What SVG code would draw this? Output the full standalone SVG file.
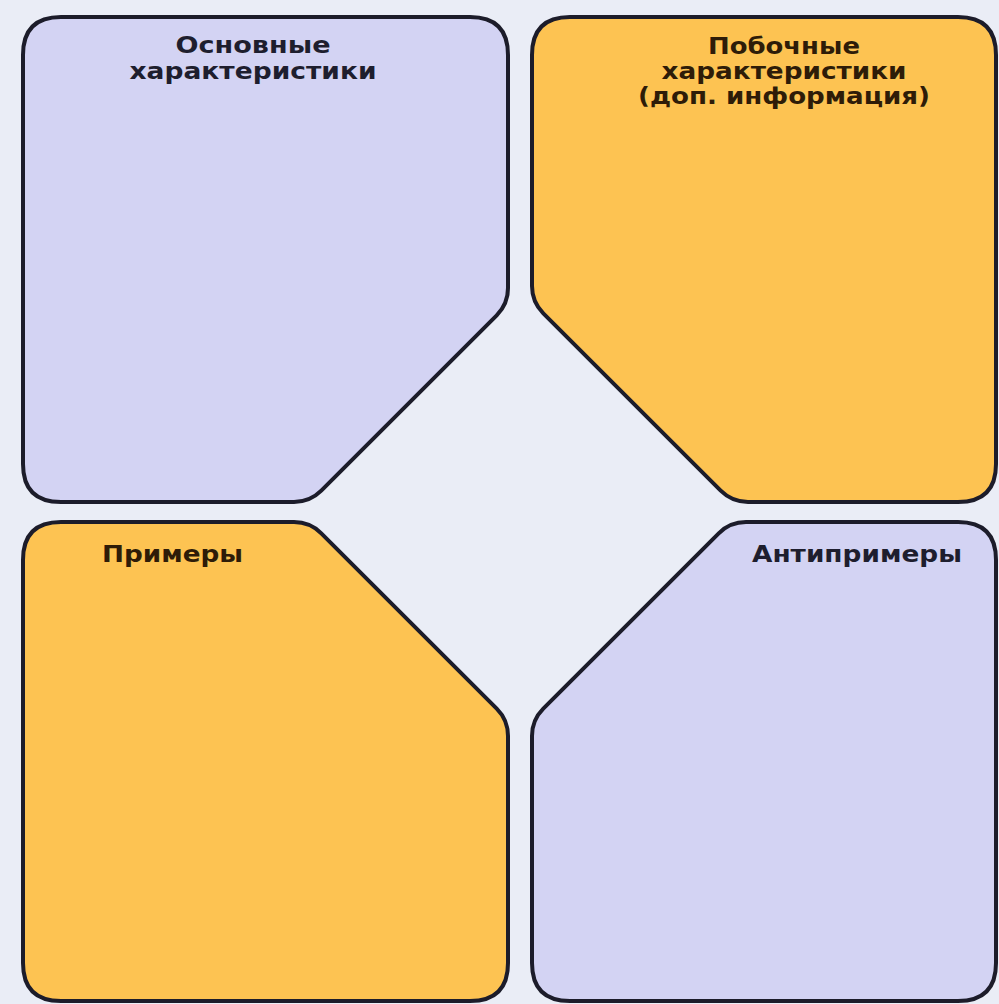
<svg xmlns="http://www.w3.org/2000/svg" width="999" height="1004" viewBox="0 0 999 1004">
<style>
.shape{stroke:#1c1c2a;stroke-width:4;stroke-linejoin:round}
.lav{fill:#d3d3f3}
.org{fill:#fdc352}
.lbl{font-family:"DejaVu Sans","Liberation Sans",sans-serif;font-weight:bold;font-size:23px}
.dk{fill:#1e1e2e}
.br{fill:#2e1c08}
</style>
<rect x="0" y="0" width="999" height="1004" fill="#eaedf6"/>
<g id="node-main">
<path class="shape lav" d="M23,55 Q23,17 61,17 L470,17 Q508,17 508,55 L508,288 Q508,304 496.7,315.3 L321.3,490.7 Q310,502 294,502 L61,502 Q23,502 23,464 Z"/>
<text class="lbl dk" x="253" y="53" text-anchor="middle" textLength="155" lengthAdjust="spacingAndGlyphs">Основные</text>
<text class="lbl dk" x="253" y="79" text-anchor="middle" textLength="247" lengthAdjust="spacingAndGlyphs">характеристики</text>
</g>
<g id="node-side">
<path class="shape org" d="M532,55 Q532,17 570,17 L958,17 Q996,17 996,55 L996,464 Q996,502 958,502 L748,502 Q732,502 720.7,490.7 L543.3,313.3 Q532,302 532,286 Z"/>
<text class="lbl br" x="784" y="54" text-anchor="middle" textLength="152" lengthAdjust="spacingAndGlyphs">Побочные</text>
<text class="lbl br" x="784" y="79" text-anchor="middle" textLength="245" lengthAdjust="spacingAndGlyphs">характеристики</text>
<text class="lbl br" x="784" y="104" text-anchor="middle" textLength="292" lengthAdjust="spacingAndGlyphs">(доп. информация)</text>
</g>
<g id="node-examples">
<path class="shape org" d="M23,560 Q23,522 61,522 L294,522 Q310,522 321.3,533.3 L496.7,708.7 Q508,720 508,736 L508,963 Q508,1001 470,1001 L61,1001 Q23,1001 23,963 Z"/>
<text class="lbl br" x="102" y="562" textLength="141" lengthAdjust="spacingAndGlyphs">Примеры</text>
</g>
<g id="node-antiexamples">
<path class="shape lav" d="M746,522 L958,522 Q996,522 996,560 L996,963 Q996,1001 958,1001 L570,1001 Q532,1001 532,963 L532,736 Q532,720 543.3,708.7 L718.7,533.3 Q730,522 746,522 Z"/>
<text class="lbl dk" x="752" y="562" textLength="210" lengthAdjust="spacingAndGlyphs">Антипримеры</text>
</g>
</svg>
